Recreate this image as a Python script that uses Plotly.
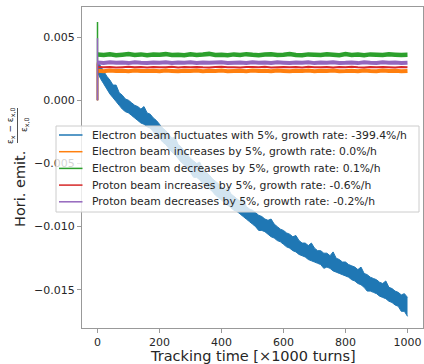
import plotly.graph_objects as go

# ---------------- data ----------------
STEP_BLUE = 10
STEP_FLAT = 20

# Electron beam fluctuates: upper / lower edge of the noisy trace (units 1e-4), every 10 (x1000 turns)
blue_hi_e4 = [
    31, 27, 23, 19, 16, 12, 12, 6, 4, 1,
    0, -2, -4, -5, -7, -5, -10, -11, -14, -16,
    -19, -22, -24, -27, -30, -29, -35, -37, -40, -43,
    -46, -48, -50, -49, -55, -57, -59, -62, -64, -66,
    -68, -71, -69, -74, -76, -78, -80, -78, -84, -86,
    -87, -89, -91, -92, -94, -95, -94, -98, -100, -102,
    -103, -105, -106, -108, -107, -111, -113, -113, -115, -113,
    -117, -119, -119, -121, -121, -123, -120, -125, -126, -128,
    -128, -130, -131, -132, -134, -132, -137, -138, -140, -141,
    -142, -144, -145, -143, -148, -149, -151, -152, -154, -153, -156]
blue_lo_e4 = [
    22, 17, 13, 9, 5, 2, -1, -4, -7, -9,
    -10, -12, -14, -16, -18, -19, -21, -22, -25, -28,
    -30, -33, -35, -38, -41, -43, -46, -49, -51, -54,
    -57, -61, -61, -63, -66, -68, -70, -72, -75, -77,
    -79, -81, -83, -85, -87, -88, -90, -92, -94, -96,
    -98, -100, -103, -103, -104, -106, -108, -109, -111, -112,
    -114, -116, -117, -119, -120, -122, -123, -124, -126, -127,
    -128, -129, -130, -133, -132, -133, -135, -136, -137, -138,
    -139, -140, -142, -143, -145, -146, -148, -151, -151, -152,
    -153, -155, -156, -157, -159, -160, -162, -163, -167, -167, -171]

# flat series (units 1e-5), every 20 (x1000 turns)
orange_e5 = [
    233, 230, 235, 231, 234, 229, 236, 232, 231, 234, 230, 235, 232, 229, 234, 231, 236, 230, 233, 231,
    235, 229, 232, 234, 230, 236, 231, 233, 229, 235, 232, 230, 234, 231, 236, 229, 233, 232, 235, 230,
    231, 234, 229, 236, 232, 230, 235, 231, 233, 230, 232]
green_e5 = [
    362, 358, 364, 357, 361, 366, 359, 363, 356, 362, 360, 365, 358, 361, 357, 364, 359, 362, 367, 358,
    361, 356, 363, 359, 365, 360, 357, 362, 364, 358, 361, 366, 359, 356, 363, 360, 358, 364, 361, 357,
    365, 359, 362, 356, 363, 360, 358, 364, 361, 359, 360]
red_e5 = [
    263, 261, 264, 260, 262, 265, 261, 263, 260, 264, 262, 261, 265, 260, 263, 262, 264, 261, 260, 263,
    265, 261, 262, 260, 264, 263, 261, 265, 260, 262, 264, 261, 263, 260, 265, 262, 261, 264, 260, 263,
    262, 265, 261, 260, 264, 262, 263, 261, 260, 264, 262]
purple_e5 = [
    298, 295, 300, 296, 299, 294, 301, 297, 295, 299, 296, 300, 294, 298, 297, 301, 295, 299, 296, 298,
    300, 294, 297, 299, 295, 301, 296, 298, 294, 300, 297, 295, 299, 296, 301, 294, 298, 297, 300, 295,
    296, 299, 294, 301, 297, 295, 300, 296, 298, 295, 297]

# initial transient at turn 0 (units 1e-5): start value, peak, settled value
orange_start_e5 = [0, 300, 233]
green_start_e5 = [0, 620, 362]
red_start_e5 = [0, 290, 263]
purple_start_e5 = [0, 490, 298]

names = [
    "Electron beam fluctuates with 5%, growth rate: -399.4%/h",
    "Electron beam increases by 5%, growth rate: 0.0%/h",
    "Electron beam decreases by 5%, growth rate: 0.1%/h",
    "Proton beam increases by 5%, growth rate: -0.6%/h",
    "Proton beam decreases by 5%, growth rate: -0.2%/h",
]
colors = ["#1f77b4", "#ff7f0e", "#2ca02c", "#d62728", "#9467bd"]

y_ticks = [-0.015, -0.010, -0.005, 0.000, 0.005]
x_ticks = [0, 200, 400, 600, 800, 1000]
x_title = "Tracking time [×1000 turns]"

fig = go.Figure()

# blue noisy trace: band between lower and upper edge
xb = [STEP_BLUE * i for i in range(len(blue_hi_e4))]
fig.add_trace(go.Scatter(x=xb, y=[v * 1e-4 for v in blue_lo_e4], mode="lines", name=names[0],
                         showlegend=False, line=dict(color=colors[0], width=1, simplify=False)))
fig.add_trace(go.Scatter(x=xb, y=[v * 1e-4 for v in blue_hi_e4], mode="lines", name=names[0],
                         showlegend=False, fill="tonexty", fillcolor=colors[0],
                         line=dict(color=colors[0], width=1, simplify=False)))

flats = [
    (orange_e5, orange_start_e5, 4),
    (green_e5, green_start_e5, 4.5),
    (red_e5, red_start_e5, 2),
    (purple_e5, purple_start_e5, 4),
]
for (vals, start, w), name, c in zip(flats, names[1:], colors[1:]):
    fig.add_trace(go.Scatter(x=[0] * len(start), y=[v * 1e-5 for v in start], mode="lines",
                             name=name, showlegend=False, line=dict(color=c, width=1.5)))
    xf = [STEP_FLAT * i for i in range(len(vals))]
    fig.add_trace(go.Scatter(x=xf, y=[v * 1e-5 for v in vals], mode="lines", name=name,
                             showlegend=False, line=dict(color=c, width=w, simplify=False)))

# geometry helpers (pixels -> paper)
W, H = 424, 364
L, R, T, B = 82, 1, 7, 36
PW, PH = W - L - R, H - T - B


def px(xp):
    return (xp - L) / PW


def py(yp):
    return 1 - (yp - T) / PH


font_main = "DejaVu Sans, Verdana, sans-serif"
axis_col = "#999999"
txt_col = "#262626"

fig.update_layout(
    width=W, height=H,
    margin=dict(l=L, r=R, t=T, b=B, autoexpand=False),
    paper_bgcolor="white", plot_bgcolor="white",
    font=dict(family=font_main, size=11, color=txt_col),
    showlegend=False,
    xaxis=dict(range=[-50, 1050], tickvals=x_ticks, ticks="outside", ticklen=4,
               tickcolor=axis_col, showline=True, linecolor=axis_col, linewidth=1.2,
               mirror=True, showgrid=False, zeroline=False, automargin=False,
               tickfont=dict(size=11, color=txt_col)),
    yaxis=dict(range=[-0.01802, 0.00738], tickvals=y_ticks, tickformat=".3f", ticks="outside",
               ticklen=4, tickcolor=axis_col, showline=True, linecolor=axis_col, linewidth=1.2,
               mirror=True, showgrid=False, zeroline=False, automargin=False,
               tickfont=dict(size=11, color=txt_col)),
)

# x-axis title (sits at the very bottom edge, as in the reference)
fig.add_annotation(text=x_title, xref="paper", yref="paper", x=0.5, y=py(364),
                   showarrow=False, xanchor="center", yanchor="bottom",
                   borderpad=0, borderwidth=0,
                   font=dict(size=14.5, color=txt_col))

# legend box (semi-transparent, drawn above the plot like matplotlib's)
fig.add_shape(type="rect", xref="paper", yref="paper", layer="above",
              x0=px(56), x1=px(419), y0=py(212), y1=py(126),
              fillcolor="rgba(255,255,255,0.8)", line=dict(color="#cccccc", width=1))
row_y = [135, 151.7, 168.4, 185.1, 201.8]
for name, c, yy in zip(names, colors, row_y):
    fig.add_shape(type="line", xref="paper", yref="paper", layer="above",
                  x0=px(59), x1=px(82.5), y0=py(yy), y1=py(yy),
                  line=dict(color=c, width=1.5))
    fig.add_annotation(text=name, xref="paper", yref="paper", x=px(90), y=py(yy),
                       xanchor="left", yanchor="middle", showarrow=False,
                       font=dict(size=10.8, color=txt_col))

# y-axis title: "Hori. emit." plus a stacked fraction
fig.add_annotation(text="Hori. emit.", xref="paper", yref="paper", x=px(20), y=py(189),
                   textangle=-90, showarrow=False, font=dict(size=14.5, color=txt_col),
                   xanchor="center", yanchor="middle")
fig.add_annotation(text="ε<sub>x</sub> − ε<sub>x,0</sub>", xref="paper", yref="paper",
                   x=px(11), y=py(126), textangle=-90, showarrow=False,
                   font=dict(size=9, color=txt_col), xanchor="center", yanchor="middle")
fig.add_annotation(text="ε<sub>x,0</sub>", xref="paper", yref="paper",
                   x=px(24), y=py(125), textangle=-90, showarrow=False,
                   font=dict(size=9, color=txt_col), xanchor="center", yanchor="middle")
fig.add_shape(type="line", xref="paper", yref="paper", x0=px(17.5), x1=px(17.5),
              y0=py(108), y1=py(143), line=dict(color=txt_col, width=0.8))

fig.write_html("out.html")
